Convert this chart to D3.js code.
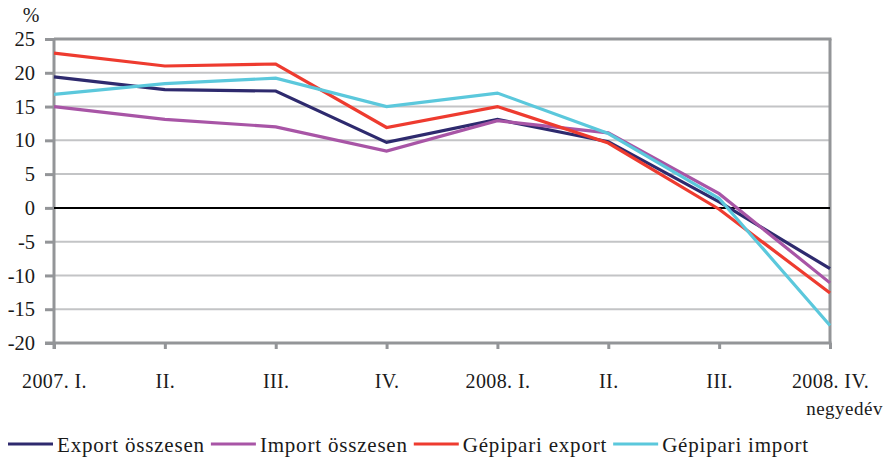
<!DOCTYPE html>
<html><head><meta charset="utf-8">
<script src="https://cdn.jsdelivr.net/npm/d3@7"></script>
<style>
body{margin:0;background:#fff;}
text{font-family:"Liberation Serif","DejaVu Serif",serif;fill:#1a1a1a;}
</style></head>
<body><svg id="c" width="890" height="461"></svg>
<script>
const categories = ["2007. I.","II.","III.","IV.","2008. I.","II.","III.","2008. IV."];
const seriesNames = ["Export összesen","Import összesen","Gépipari export","Gépipari import"];
const exportTotal = [19.4,17.5,17.3,9.7,13.1,9.8,0.9,-9.0];
const importTotal = [15.0,13.1,12.0,8.4,12.9,11.1,2.1,-11.1];
const machExport  = [22.9,21.0,21.3,11.9,15.0,9.6,-0.2,-12.6];
const machImport  = [16.8,18.4,19.2,15.0,17.0,11.0,1.4,-17.4];
const yTicks = [25,20,15,10,5,0,-5,-10,-15,-20];
const colors = ["#2e2a6e","#a855a6","#ee3b2f","#5bc8dc"];

const series = [exportTotal, importTotal, machExport, machImport];
const svg = d3.select("#c");
const L=54, R=830, T=39, B=343;
const x = d3.scalePoint().domain(categories.map((c,i)=>i)).range([L,R]).padding(0);
const y = d3.scaleLinear().domain([-20,25]).range([B,T]);
const FONT = "'Liberation Serif',serif";

// gridlines
svg.append("g").selectAll("line").data(yTicks.filter(v=>v!==0 && v!==25 && v!==-20)).join("line")
  .attr("x1",L).attr("x2",R).attr("y1",d=>y(d)).attr("y2",d=>y(d))
  .attr("stroke","#c3c4c6").attr("stroke-width",2);
// top border
svg.append("line").attr("x1",L).attr("x2",R+1.5).attr("y1",y(25)).attr("y2",y(25)).attr("stroke","#939598").attr("stroke-width",3);
// right border
svg.append("line").attr("x1",R).attr("x2",R).attr("y1",T).attr("y2",B).attr("stroke","#939598").attr("stroke-width",3);

// y axis
const yAxis = d3.axisLeft(y).tickValues(yTicks).tickSize(9).tickPadding(10).tickFormat(d=>String(d));
const gy = svg.append("g").attr("transform",`translate(${L},0)`).call(yAxis);
gy.select(".domain").attr("stroke","#939598").attr("stroke-width",3).attr("d",`M0,${T}V${B+6}`);
gy.selectAll(".tick line").attr("stroke","#939598").attr("stroke-width",3);
gy.selectAll(".tick text").attr("font-size",20.5).attr("fill","#1a1a1a").style("font-family",FONT);

// x axis
const xAxis = d3.axisBottom(x).tickSize(6).tickPadding(25).tickFormat(i=>categories[i]);
const gx = svg.append("g").attr("transform",`translate(0,${B})`).call(xAxis);
gx.select(".domain").attr("stroke","#939598").attr("stroke-width",3).attr("d",`M${L-9},0H${R+1.5}`);
gx.selectAll(".tick line").attr("stroke","#939598").attr("stroke-width",3);
gx.selectAll(".tick text").attr("font-size",20).attr("letter-spacing",0.4).attr("fill","#1a1a1a").style("font-family",FONT);

// zero line
svg.append("line").attr("x1",L).attr("x2",R).attr("y1",y(0)).attr("y2",y(0)).attr("stroke","#000").attr("stroke-width",2);

// lines
const line = d3.line().x((d,i)=>x(i)).y(d=>y(d));
series.forEach((s,k)=>{
  svg.append("path").datum(s).attr("d",line).attr("fill","none")
    .attr("stroke",colors[k]).attr("stroke-width",3.2).attr("stroke-linejoin","miter");
});

// labels
svg.append("text").attr("x",31).attr("y",22).attr("text-anchor","middle").attr("font-size",20).text("%");
svg.append("text").attr("x",883).attr("y",415).attr("text-anchor","end").attr("font-size",19).attr("letter-spacing",0.5).text("negyedév");

// legend
const legend = svg.append("g");
let lx = 8;
seriesNames.forEach((n,k)=>{
  legend.append("line").attr("x1",lx).attr("x2",lx+45).attr("y1",444).attr("y2",444).attr("stroke",colors[k]).attr("stroke-width",3.2);
  const t = legend.append("text").attr("x",lx+49).attr("y",452).attr("font-size",21).attr("letter-spacing",0.8).text(n);
  lx += 49 + t.node().getComputedTextLength() + 6;
});
</script></body></html>
